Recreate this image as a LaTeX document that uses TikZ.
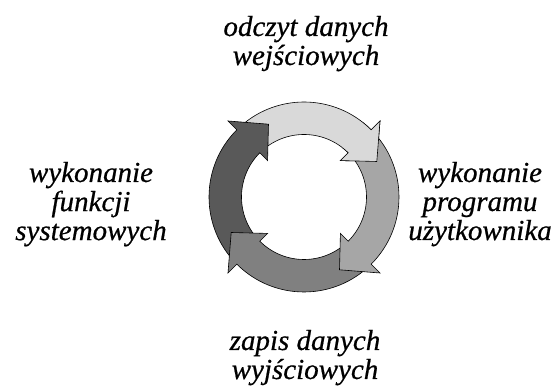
\documentclass[tikz,border=0pt]{standalone}
\usepackage{fontspec}
\setmainfont{Liberation Serif}[ItalicFeatures={FakeBold=0.6}]
\definecolor{gA}{RGB}{217,217,217}
\definecolor{gB}{RGB}{166,166,166}
\definecolor{gC}{RGB}{128,128,128}
\definecolor{gD}{RGB}{89,89,89}
\begin{document}
\begin{tikzpicture}[x=1pt,y=1pt,
  arrowline/.style={draw=black, line width=0.6pt, line join=miter},
  lbl/.style={inner sep=0pt, anchor=base, font=\fontsize{29}{29}\selectfont\itshape}]
\useasboundingbox (0,0) rectangle (555,387);
\begin{scope}[shift={(304,190)}]
  \coordinate (c) at (0,0);
  \foreach \h/\c in {45/gA, 135/gD, -135/gC, -45/gB}{
    \path[arrowline, fill=\c] (\h+90:95) arc[start angle=\h+90, end angle=\h, radius=95]
      -- (\h:107.5) -- (\h-19:81) -- (\h:51.5) -- (\h:62.5)
      arc[start angle=\h, end angle=\h+90, radius=62.5] -- cycle;
  }
  \begin{scope}
    \clip (c) -- (20:125) arc[start angle=20, end angle=52, radius=125] -- cycle;
    \path[arrowline, fill=gA] (135:95) arc[start angle=135, end angle=45, radius=95]
      -- (45:107.5) -- (26:81) -- (45:51.5) -- (45:62.5)
      arc[start angle=45, end angle=135, radius=62.5] -- cycle;
  \end{scope}
\end{scope}
\node[lbl] (top) at (306,351) {\begin{tabular}[t]{@{}c@{}}odczyt danych\\wejściowych\end{tabular}};
\node[lbl] (right) at (480,205) {\begin{tabular}[t]{@{}c@{}}wykonanie\\programu\\użytkownika\end{tabular}};
\node[lbl] (bottom) at (305,37) {\begin{tabular}[t]{@{}c@{}}zapis danych\\wyjściowych\end{tabular}};
\node[lbl] (left) at (91,205) {\begin{tabular}[t]{@{}c@{}}wykonanie\\funkcji\\systemowych\end{tabular}};
\end{tikzpicture}
\end{document}
